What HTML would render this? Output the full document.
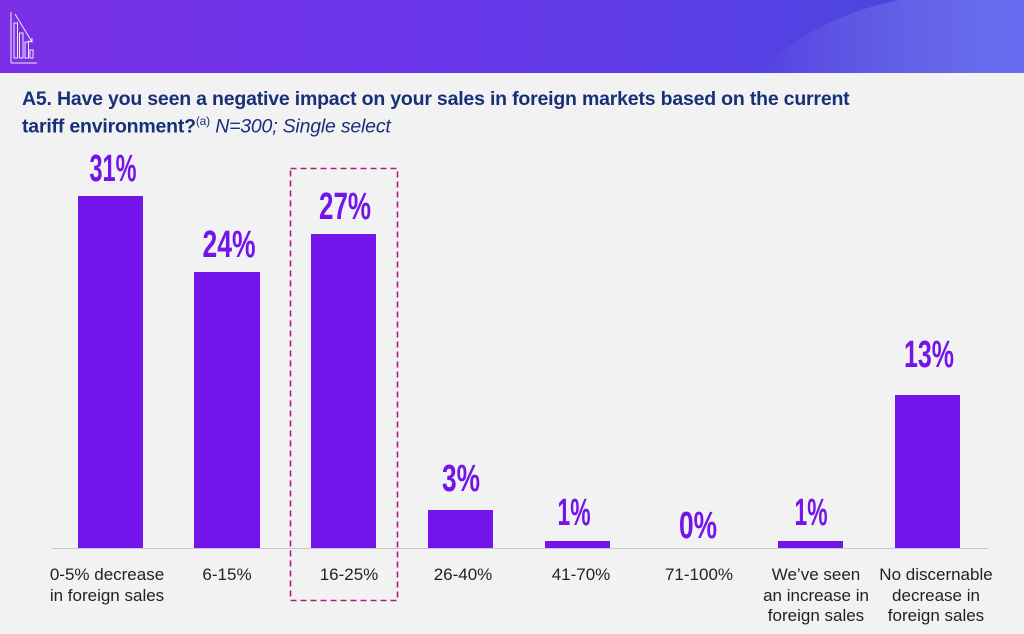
<!DOCTYPE html>
<html><head><meta charset="utf-8"><style>
html,body{margin:0;padding:0}
body{width:1024px;height:634px;overflow:hidden;background:#f2f2f2;font-family:"Liberation Sans",sans-serif;position:relative}
.banner{position:absolute;left:0;top:0;width:1024px;height:73px;background:linear-gradient(90deg,#7a2fe6 0%,#6a35ea 40%,#5a3fe6 70%,#4c45e0 85%,#5050e8 100%)}
.title{position:absolute;left:22px;top:88px;font-size:19.5px;font-weight:bold;color:#17307a;line-height:22px;letter-spacing:-0.2px}
.title sup{font-size:12px;font-weight:normal}
.title i{font-weight:normal}
.cat{position:absolute;top:565px;width:150px;text-align:center;font-size:17px;line-height:20.5px;color:#222}
</style></head><body>
<div class="banner">
<svg width="1024" height="73" style="position:absolute;left:0;top:0">
<defs><linearGradient id="g" x1="0" x2="1"><stop offset="0" stop-color="#fff" stop-opacity="0"/><stop offset="1" stop-color="#8aa0ff" stop-opacity="0.35"/></linearGradient></defs>
<path d="M760 73 C800 30 850 10 900 0 L1024 0 L1024 73 Z" fill="url(#g)"/>
<g stroke="#fff" stroke-width="1" fill="none" opacity="0.9">
<line x1="11" y1="12" x2="11" y2="63"/><line x1="11" y1="63" x2="37" y2="63"/>
<rect x="14" y="23" width="3.5" height="35"/><rect x="19.5" y="33" width="3.5" height="25"/><rect x="25" y="42" width="3.5" height="16"/><rect x="30" y="50" width="3" height="8"/>
<line x1="15" y1="14" x2="32" y2="42"/><polyline points="28,41 32,42 32,38"/>
</g></svg>
</div>
<div class="title">A5. Have you seen a negative impact on your sales in foreign markets based on the current<br>tariff environment?<sup>(a)</sup> <i>N=300; Single select</i></div>
<svg width="1024" height="634" style="position:absolute;left:0;top:0">
<line x1="52" y1="548.5" x2="988" y2="548.5" stroke="#c8c8c8" stroke-width="1"/>
<g fill="#7214ea">
<rect x="78" y="196" width="65" height="352"/>
<rect x="194" y="272" width="66" height="276"/>
<rect x="311" y="234" width="65" height="314"/>
<rect x="428" y="510" width="65" height="38"/>
<rect x="545" y="541" width="65" height="7"/>
<rect x="778" y="541" width="65" height="7"/>
<rect x="895" y="395" width="65" height="153"/>
</g>
<rect x="290.5" y="168.5" width="107" height="432" fill="none" stroke="#b5187f" stroke-width="1.6" stroke-dasharray="6,4"/>
<g fill="#7214ea" font-family="'Liberation Sans Narrow','Liberation Sans',sans-serif" font-weight="bold" font-size="38" text-anchor="middle">
<text x="113" y="181" textLength="47" lengthAdjust="spacingAndGlyphs">31%</text>
<text x="229" y="257" textLength="53" lengthAdjust="spacingAndGlyphs">24%</text>
<text x="345" y="219" textLength="52" lengthAdjust="spacingAndGlyphs">27%</text>
<text x="461" y="491" textLength="38" lengthAdjust="spacingAndGlyphs">3%</text>
<text x="574" y="525" textLength="33" lengthAdjust="spacingAndGlyphs">1%</text>
<text x="698" y="538" textLength="38" lengthAdjust="spacingAndGlyphs">0%</text>
<text x="811" y="525" textLength="33" lengthAdjust="spacingAndGlyphs">1%</text>
<text x="929" y="367" textLength="50" lengthAdjust="spacingAndGlyphs">13%</text>
</g>
</svg>
<div class="cat" style="left:32px">0-5% decrease<br>in foreign sales</div>
<div class="cat" style="left:152px">6-15%</div>
<div class="cat" style="left:274px">16-25%</div>
<div class="cat" style="left:388px">26-40%</div>
<div class="cat" style="left:506px">41-70%</div>
<div class="cat" style="left:624px">71-100%</div>
<div class="cat" style="left:741px">We’ve seen<br>an increase in<br>foreign sales</div>
<div class="cat" style="left:861px">No discernable<br>decrease in<br>foreign sales</div>
</body></html>
